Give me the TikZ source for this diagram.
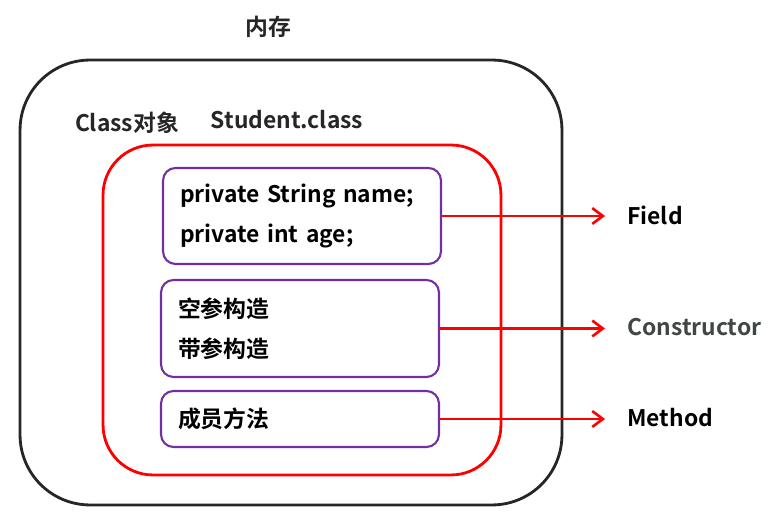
\documentclass[tikz,border=0pt]{standalone}
\usepackage{fontspec}
\setmainfont{Noto Sans CJK SC}[BoldFont={Noto Sans CJK SC Bold}]
\usepackage{xcolor}
\definecolor{inkred}{HTML}{FF0000}
\definecolor{memberpurple}{HTML}{7030A0}
\definecolor{darkline}{HTML}{262626}
\definecolor{labelgray}{HTML}{404545}
\usetikzlibrary{arrows.meta,positioning}
\tikzset{
  >={Straight Barb[length=6pt,width=9pt,line width=1.5pt]},
  memory/.style={rectangle,draw=darkline,line width=1.6pt,rounded corners=1.4cm,minimum width=10.84cm,minimum height=8.9cm},
  classobj/.style={rectangle,draw=inkred,line width=1.6pt,rounded corners=1cm,minimum width=7.96cm,minimum height=6.6cm},
  member/.style={rectangle,draw=memberpurple,line width=1.2pt,rounded corners=0.25cm,minimum width=5.56cm,text width=5.56cm-0.68cm,inner xsep=0.34cm,align=left,font=\bfseries\fontsize{13}{23}\selectfont},
  caption/.style={font=\bfseries\fontsize{13}{16}\selectfont,text=darkline},
  kind/.style={anchor=west,inner sep=0pt,font=\bfseries\fontsize{13}{16}\selectfont},
  link/.style={->,draw=inkred,line width=1.6pt,shorten >=0.44cm}
}

\begin{document}
\begin{tikzpicture}[x=0.02cm,y=-0.02cm]
  \useasboundingbox (0,0) rectangle (784,519);
  % Memory and class object
  \node[caption] (mem) at (268,27) {内存};
  \node[memory] (heap) at (291,282.5) {};
  \node[classobj] (cls) at (302,310) {};
  \node[caption] (clsname) at (127,123) {Class对象};
  \node[caption] (stu) at (287,120) {Student.class};

  % Members
  \node[member,minimum height=1.92cm] (fields) at (302,216) {private String name;\\private int age;};
  \node[member,minimum height=1.94cm] (ctors) at (300,328.5) {空参构造\\带参构造};
  \node[member,minimum height=1.12cm] (methods) at (300,419) {成员方法};

  % Kinds
  \node[kind] (field) at (627,215) {Field};
  \node[kind,text=labelgray] (ctor) at (627,327) {Constructor};
  \node[kind] (method) at (627,418) {Method};

  \draw[link] (fields.east) -- (fields.east -| field.west);
  \draw[link] (ctors.east) -- (ctors.east -| ctor.west);
  \draw[link] (methods.east) -- (methods.east -| method.west);
\end{tikzpicture}
\end{document}
